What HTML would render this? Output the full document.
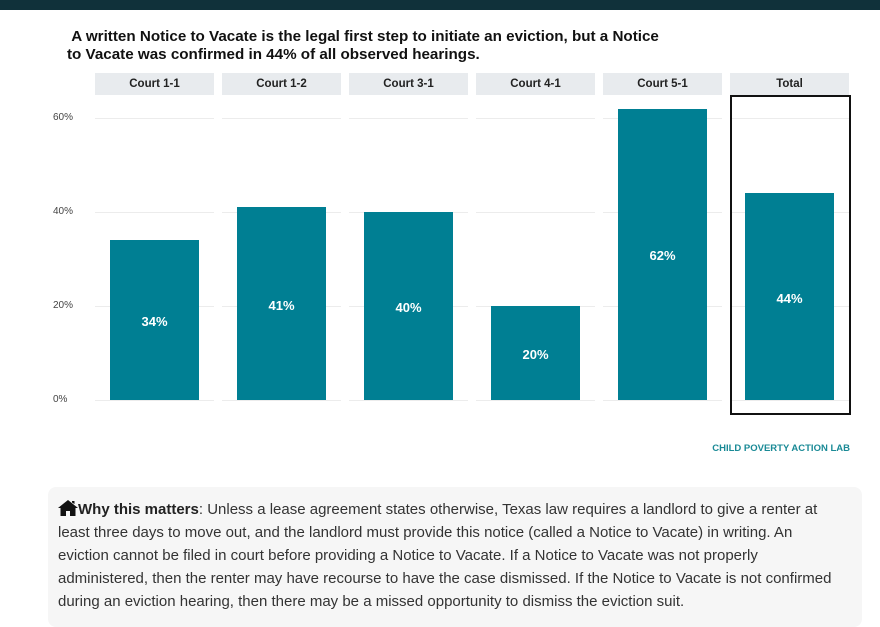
<!DOCTYPE html>
<html><head><meta charset="utf-8"><style>
body{margin:0;width:880px;height:612px;background:#fff;overflow:hidden;position:relative;font-family:"Liberation Sans",sans-serif}
.top{position:absolute;left:0;top:0;width:880px;height:10px;background:#10313a}
.t{position:absolute;left:67px;top:28px;font-weight:bold;font-size:15.2px;line-height:18px;color:#111}
.strip{position:absolute;top:73px;height:22px;width:119px;background:#e8ebee;font-size:11.5px;font-weight:bold;text-align:center;line-height:22px;color:#222}
.grid{position:absolute;height:1px;background:#ececec}
.bar{position:absolute;width:89px;background:#007f93}
.lab{position:absolute;width:89px;text-align:center;color:#fff;font-weight:bold;font-size:13px}
.yl{position:absolute;left:53px;font-size:10px;color:#444;width:40px}
.box{position:absolute;left:48px;top:487px;width:814px;height:140px;background:#f6f6f6;border-radius:8px}
.p{position:absolute;left:58px;top:498px;width:785px;font-size:15px;line-height:23px;color:#333}
</style></head><body>
<div class="top"></div>
<div class="t">&nbsp;A written Notice to Vacate is the legal first step to initiate an eviction, but a Notice<br>to Vacate was confirmed in 44% of all observed hearings.</div>
<div class="strip" style="left:95px">Court 1-1</div>
<div class="strip" style="left:222px">Court 1-2</div>
<div class="strip" style="left:349px">Court 3-1</div>
<div class="strip" style="left:476px">Court 4-1</div>
<div class="strip" style="left:603px">Court 5-1</div>
<div class="strip" style="left:730px">Total</div>
<div class="yl" style="top:112px">60%</div>
<div class="yl" style="top:206px">40%</div>
<div class="yl" style="top:300px">20%</div>
<div class="yl" style="top:394px">0%</div>
<div id="g"></div>
<script>
var xs=[95,222,349,476,603,730],v=[34,41,40,20,62,44],h='';
xs.forEach(function(x,i){[118,212,306,400].forEach(function(y){h+='<div class="grid" style="left:'+x+'px;top:'+y+'px;width:119px"></div>';});
var top=400-v[i]*4.7;h+='<div class="bar" style="left:'+(x+15)+'px;top:'+top+'px;height:'+(400-top)+'px"></div>';
h+='<div class="lab" style="left:'+(x+15)+'px;top:'+((top+400)/2-6)+'px">'+v[i]+'%</div>';});
document.getElementById('g').innerHTML=h;
</script>
<div style="position:absolute;left:730px;top:95px;width:117px;height:316px;border:2px solid #111"></div>
<div style="position:absolute;right:30px;top:443px;font-size:9.5px;font-weight:bold;color:#1a8a96">CHILD POVERTY ACTION LAB</div>
<div class="box"></div>
<div class="p"><svg width="20" height="16" viewBox="0 0 20 16" style="vertical-align:-2px"><path d="M10 0 L20 8 L17.5 8 L17.5 16 L12 16 L12 11 L8 11 L8 16 L2.5 16 L2.5 8 L0 8 Z M14 1 L16.5 1 L16.5 4 L14 2.5Z" fill="#111"/></svg><b style="color:#222">Why this matters</b>: Unless a lease agreement states otherwise, Texas law requires a landlord to give a renter at least three days to move out, and the landlord must provide this notice (called a Notice to Vacate) in writing. An eviction cannot be filed in court before providing a Notice to Vacate. If a Notice to Vacate was not properly administered, then the renter may have recourse to have the case dismissed. If the Notice to Vacate is not confirmed during an eviction hearing, then there may be a missed opportunity to dismiss the eviction suit.</div>
</body></html>
